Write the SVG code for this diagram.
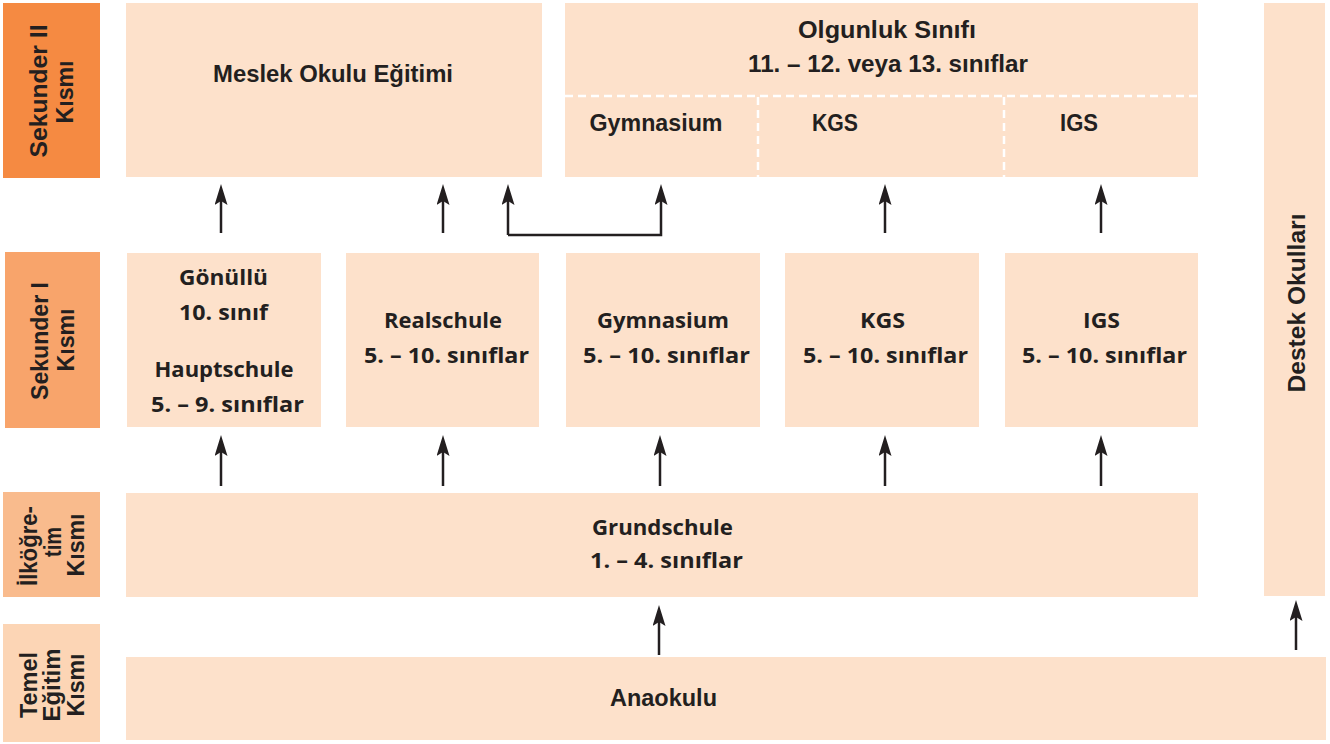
<svg xmlns="http://www.w3.org/2000/svg" width="1330" height="744" viewBox="0 0 1330 744">
<defs>
<style>
.box{fill:#FDE1CB}
.t{font-family:"Open Sans","Liberation Sans",sans-serif;font-weight:700;font-size:21px;fill:#231F20;text-anchor:middle}
.h{font-family:"Liberation Sans",Arial,sans-serif;font-weight:700;font-size:24px;fill:#231F20;text-anchor:middle}
.lab{font-family:"Liberation Sans",Arial,sans-serif;font-weight:700;font-size:24px;fill:#231F20;text-anchor:middle}
.lab2{font-family:"Liberation Sans",Arial,sans-serif;font-weight:700;font-size:23px;fill:#231F20;text-anchor:middle}
.dash{stroke:#FFFFFF;stroke-width:2.5;stroke-dasharray:8 5;fill:none}
.arr{stroke:#231F20;stroke-width:2.5;fill:none;marker-end:url(#ah)}
</style>
<marker id="ah" markerUnits="userSpaceOnUse" markerWidth="21" markerHeight="13" viewBox="0 0 21 13" refX="4" refY="6.5" orient="auto">
<path d="M21,6.5 L0,0 L4,6.5 L0,13 Z" fill="#231F20"/>
</marker>
</defs>
<rect width="1330" height="744" fill="#FFFFFF"/>

<g id="label-sekunder2">
<rect x="3" y="3" width="97" height="175" fill="#F58A42"/>
<text class="lab" transform="translate(47,91) rotate(-90)" textLength="133" lengthAdjust="spacingAndGlyphs">Sekunder II</text>
<text class="lab" transform="translate(73,92) rotate(-90)" textLength="63" lengthAdjust="spacingAndGlyphs">Kısmı</text>
</g>
<g id="label-sekunder1">
<rect x="5" y="252" width="95" height="176" fill="#F8A46B"/>
<text class="lab" transform="translate(48,341) rotate(-90)" textLength="118" lengthAdjust="spacingAndGlyphs">Sekunder I</text>
<text class="lab" transform="translate(74,340) rotate(-90)" textLength="63" lengthAdjust="spacingAndGlyphs">Kısmı</text>
</g>
<g id="label-ilkogretim">
<rect x="3" y="492" width="97" height="105" fill="#F9BB8D"/>
<text class="lab2" transform="translate(37,546) rotate(-90)" textLength="80" lengthAdjust="spacingAndGlyphs">İlköğre-</text>
<text class="lab2" transform="translate(61,542) rotate(-90)" textLength="30" lengthAdjust="spacingAndGlyphs">tim</text>
<text class="lab2" transform="translate(84,545) rotate(-90)" textLength="63" lengthAdjust="spacingAndGlyphs">Kısmı</text>
</g>
<g id="label-temel">
<rect x="3" y="624" width="97" height="118" fill="#FCD5B5"/>
<text class="lab2" transform="translate(37,685) rotate(-90)" textLength="66" lengthAdjust="spacingAndGlyphs">Temel</text>
<text class="lab2" transform="translate(60,685) rotate(-90)" textLength="73" lengthAdjust="spacingAndGlyphs">Eğitim</text>
<text class="lab2" transform="translate(84,685) rotate(-90)" textLength="63" lengthAdjust="spacingAndGlyphs">Kısmı</text>
</g>

<g id="meslek">
<rect class="box" x="126" y="3" width="416" height="174"/>
<text class="h" x="333" y="82" textLength="240" lengthAdjust="spacingAndGlyphs">Meslek Okulu Eğitimi</text>
</g>
<g id="olgunluk">
<rect class="box" x="565" y="3" width="633" height="174"/>
<line class="dash" x1="565" y1="96" x2="1198" y2="96"/>
<line class="dash" x1="758" y1="97" x2="758" y2="177"/>
<line class="dash" x1="1004" y1="97" x2="1004" y2="177"/>
<text class="h" x="887" y="38" textLength="178" lengthAdjust="spacingAndGlyphs">Olgunluk Sınıfı</text>
<text class="h" x="888" y="72" textLength="280" lengthAdjust="spacingAndGlyphs">11. – 12. veya 13. sınıflar</text>
<text class="h" x="656" y="131" textLength="133" lengthAdjust="spacingAndGlyphs">Gymnasium</text>
<text class="h" x="835" y="131" textLength="46" lengthAdjust="spacingAndGlyphs">KGS</text>
<text class="h" x="1079" y="131" textLength="38" lengthAdjust="spacingAndGlyphs">IGS</text>
</g>
<g id="destek">
<rect class="box" x="1264" y="3" width="61" height="593"/>
<text class="h" transform="translate(1305,303) rotate(-90)" textLength="179" lengthAdjust="spacingAndGlyphs">Destek Okulları</text>
</g>

<g id="hauptschule">
<rect class="box" x="127" y="253" width="194" height="174"/>
<text class="t" x="223.5" y="285" textLength="89" lengthAdjust="spacingAndGlyphs">Gönüllü</text>
<text class="t" x="223.5" y="320" textLength="89" lengthAdjust="spacingAndGlyphs">10. sınıf</text>
<text class="t" x="224" y="377" textLength="139" lengthAdjust="spacingAndGlyphs">Hauptschule</text>
<text class="t" x="227.5" y="412" textLength="153" lengthAdjust="spacingAndGlyphs">5. – 9. sınıflar</text>
</g>
<g id="realschule">
<rect class="box" x="346" y="253" width="193" height="174"/>
<text class="t" x="443" y="328" textLength="118" lengthAdjust="spacingAndGlyphs">Realschule</text>
<text class="t" x="446.5" y="363" textLength="165" lengthAdjust="spacingAndGlyphs">5. – 10. sınıflar</text>
</g>
<g id="gymnasium">
<rect class="box" x="566" y="253" width="194" height="174"/>
<text class="t" x="663" y="328" textLength="132" lengthAdjust="spacingAndGlyphs">Gymnasium</text>
<text class="t" x="666.5" y="363" textLength="167" lengthAdjust="spacingAndGlyphs">5. – 10. sınıflar</text>
</g>
<g id="kgs">
<rect class="box" x="785" y="253" width="194" height="174"/>
<text class="t" x="882.5" y="328" textLength="45" lengthAdjust="spacingAndGlyphs">KGS</text>
<text class="t" x="885.5" y="363" textLength="165" lengthAdjust="spacingAndGlyphs">5. – 10. sınıflar</text>
</g>
<g id="igs">
<rect class="box" x="1005" y="253" width="193" height="174"/>
<text class="t" x="1101.5" y="328" textLength="37" lengthAdjust="spacingAndGlyphs">IGS</text>
<text class="t" x="1104.5" y="363" textLength="165" lengthAdjust="spacingAndGlyphs">5. – 10. sınıflar</text>
</g>

<g id="grundschule">
<rect class="box" x="126" y="493" width="1072" height="104"/>
<text class="t" x="662.5" y="535" textLength="141" lengthAdjust="spacingAndGlyphs">Grundschule</text>
<text class="t" x="666.5" y="568" textLength="153" lengthAdjust="spacingAndGlyphs">1. – 4. sınıflar</text>
</g>
<g id="anaokulu">
<rect class="box" x="126" y="657" width="1200" height="83"/>
<text class="h" x="663.5" y="706" textLength="107" lengthAdjust="spacingAndGlyphs">Anaokulu</text>
</g>

<g id="connectors">
<line class="arr" x1="221" y1="233" x2="221" y2="201"/>
<line class="arr" x1="443" y1="233" x2="443" y2="201"/>
<path class="arr" d="M508,235 V201"/>
<path class="arr" d="M508,235 H661 V201"/>
<line class="arr" x1="885" y1="233" x2="885" y2="201"/>
<line class="arr" x1="1101" y1="233" x2="1101" y2="201"/>

<line class="arr" x1="221" y1="486" x2="221" y2="452"/>
<line class="arr" x1="443" y1="486" x2="443" y2="452"/>
<line class="arr" x1="660" y1="486" x2="660" y2="452"/>
<line class="arr" x1="885" y1="486" x2="885" y2="452"/>
<line class="arr" x1="1101" y1="486" x2="1101" y2="452"/>

<line class="arr" x1="659" y1="655" x2="659" y2="622"/>
<line class="arr" x1="1296" y1="650" x2="1296" y2="617"/>
</g>
</svg>
